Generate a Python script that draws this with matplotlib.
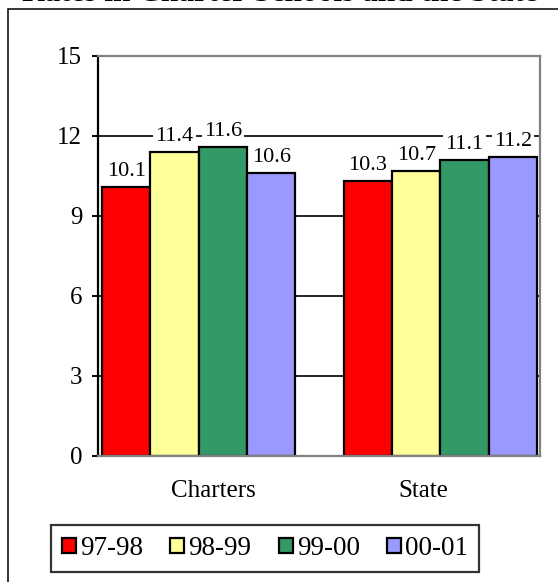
import matplotlib.pyplot as plt
from matplotlib.patches import Rectangle

plt.rcParams['font.family'] = ['Liberation Serif', 'DejaVu Serif']

# Rates by school year for each group
years = ['97-98', '98-99', '99-00', '00-01']
charters = [10.1, 11.4, 11.6, 10.6]
state = [10.3, 10.7, 11.1, 11.2]
groups = ['Charters', 'State']
colors = ['#FF0000', '#FFFF99', '#339966', '#9999FF']

fig = plt.figure(figsize=(5.58, 5.82), dpi=100)
ax = fig.add_axes([98 / 558, 126 / 582, 442 / 558, 400 / 582])

# outer frame around the whole chart
fig.patches.append(Rectangle((8 / 558, -0.1), 1.2, 1 - 9 / 582 + 0.1,
                             transform=fig.transFigure, fill=False,
                             edgecolor='black', linewidth=1.1, zorder=0))
fig.text(280 / 558, 1 - 1 / 582, 'Rates in Charter Schools and the State',
         ha='center', va='baseline', fontsize=22.5, fontweight='bold')

ax.set_axisbelow(True)
ax.yaxis.grid(True, color='black', linewidth=1.2)

for i, (year, color) in enumerate(zip(years, colors)):
    for g, vals in enumerate([charters, state]):
        x = g * 5 + i
        ax.bar(x, vals[i], width=1.0, color=color, edgecolor='black',
               linewidth=1.6, label=year if g == 0 else None, zorder=2)
        ax.annotate(f'{vals[i]:.1f}', (x, vals[i]), xytext=(0, 8),
                    textcoords='offset points', ha='center', va='baseline',
                    fontsize=16, zorder=3,
                    bbox=dict(boxstyle='square,pad=0.1', fc='white', ec='none'))

ax.set_ylim(0, 15)
ax.set_yticks([0, 3, 6, 9, 12, 15])
ax.set_xlim(-0.5 - 4 / 48.33, 8.5 + 3 / 48.33)
ax.set_xticks([1.8, 6.15])
ax.set_xticklabels(groups, fontsize=18)
ax.tick_params(axis='x', length=0, pad=17)
ax.tick_params(axis='y', labelsize=18, length=4.3, width=1.4, pad=7, direction='out')

ax.spines['left'].set_color('black')
ax.spines['left'].set_linewidth(1.6)
for side in ['top', 'right', 'bottom']:
    ax.spines[side].set_color('#808080')
    ax.spines[side].set_linewidth(1.6)

leg = fig.legend(loc='center', bbox_to_anchor=(265 / 558, 1 - 548.5 / 582),
                 ncol=4, fontsize=19.5, frameon=True, fancybox=False,
                 handlelength=0.52, handleheight=0.52, handletextpad=0.15,
                 columnspacing=1.0, borderpad=0.4, edgecolor='black')
leg.get_frame().set_linewidth(1.6)

fig.savefig('out.png', dpi=100)
